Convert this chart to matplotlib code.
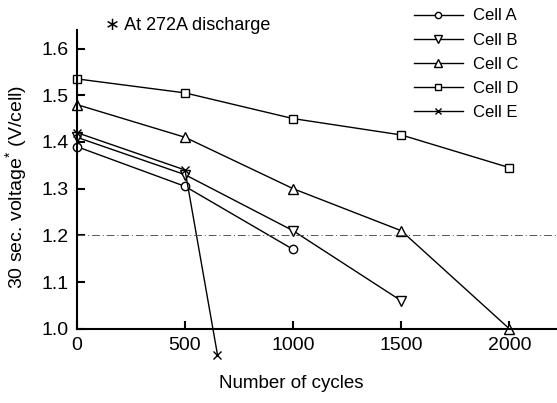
import matplotlib.pyplot as plt

plt.rcParams['font.family'] = ['Liberation Sans', 'DejaVu Sans']
plt.rcParams['mathtext.fontset'] = 'custom'
plt.rcParams['mathtext.rm'] = 'Liberation Sans'
plt.rcParams['mathtext.default'] = 'regular'

cycles = [0, 500, 1000, 1500, 2000]
cell_a = [1.39, 1.305, 1.17]
cell_b = [1.41, 1.33, 1.21, 1.06]
cell_c = [1.48, 1.41, 1.30, 1.21, 1.00]
cell_d = [1.535, 1.505, 1.45, 1.415, 1.345]
cell_e_x = [0, 500, 650]
cell_e = [1.42, 1.34, 0.945]

labels = ["Cell A", "Cell B", "Cell C", "Cell D", "Cell E"]

fig = plt.figure(figsize=(5.57, 4.03), dpi=100)
ax = fig.add_axes([0.138, 0.184, 0.862, 0.742])

mk = dict(color="black", lw=1.0, markerfacecolor="white", markeredgecolor="black", clip_on=False)
ax.plot(cycles[:3], cell_a, marker="o", ms=6, label=labels[0], **mk)
ax.plot(cycles[:4], cell_b, marker="v", ms=7, label=labels[1], **mk)
ax.plot(cycles, cell_c, marker="^", ms=7, label=labels[2], **mk)
ax.plot(cycles, cell_d, marker="s", ms=5.5, label=labels[3], **mk)
ax.plot(cell_e_x, cell_e, marker="x", ms=6, label=labels[4], **mk)

ax.axhline(1.2, color="#555555", lw=0.7, ls="-.", dashes=(8, 3, 1, 3))

ax.set_xlim(0, 2220)
ax.set_ylim(1.0, 1.64)
ax.set_xticks([0, 500, 1000, 1500, 2000])
ax.set_yticks([1.0, 1.1, 1.2, 1.3, 1.4, 1.5, 1.6])
ax.set_yticklabels(["1.0", "1.1", "1.2", "1.3", "1.4", "1.5", "1.6"])
ax.tick_params(direction="in", length=6, width=1.5, labelsize=14, pad=6)
ax.spines["top"].set_visible(False)
ax.spines["right"].set_visible(False)
ax.spines["left"].set_linewidth(1.5)
ax.spines["bottom"].set_linewidth(1.5)

ax.set_xlabel("Number of cycles", fontsize=13.5)
ax.xaxis.set_label_coords(0.446, -0.155)
ax.set_ylabel("30 sec. voltage$^{*}$ (V/cell)", fontsize=14)
ax.yaxis.set_label_coords(-0.1, 0.475)

fig.text(0.188, 0.925, "\u2217 At 272A discharge", fontsize=13)

fig.legend(loc="upper right", bbox_to_anchor=(0.945, 1.0), frameon=False,
           fontsize=12, handlelength=2.9, labelspacing=0.55, borderaxespad=0.1,
           handletextpad=0.6, markerscale=0.75)

fig.savefig("out.png", dpi=100)
